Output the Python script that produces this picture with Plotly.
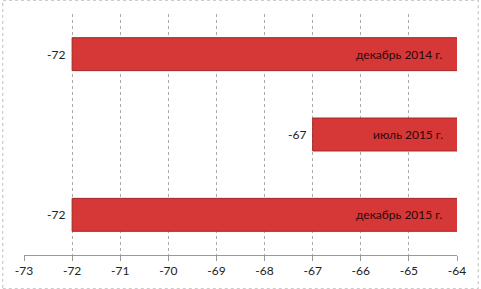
import plotly.graph_objects as go

categories = ["декабрь 2014 г.", "июль 2015 г.", "декабрь 2015 г."]
values = [-72, -67, -72]
tick_vals = [-73, -72, -71, -70, -69, -68, -67, -66, -65, -64]

FONT = "Lato"

fig = go.Figure()
fig.add_trace(go.Bar(
    y=categories, x=values, orientation="h",
    width=0.41,
    marker=dict(color="#D63838", line=dict(color="#A02828", width=1)),
    hoverinfo="skip", showlegend=False,
))

annotations = []
for c, v in zip(categories, values):
    annotations.append(dict(x=v, y=c, xref="x", yref="y", text=str(v),
                            showarrow=False, xanchor="right", xshift=-5,
                            font=dict(family=FONT, size=12, color="#222")))
    annotations.append(dict(x=-64, y=c, xref="x", yref="y", text=c,
                            showarrow=False, xanchor="right", xshift=-12,
                            font=dict(family=FONT, size=12, color="#2a0808")))

fig.update_layout(
    width=481, height=289,
    margin=dict(l=24, r=24, t=14, b=34),
    paper_bgcolor="white", plot_bgcolor="white",
    annotations=annotations,
    shapes=[dict(type="rect", xref="paper", yref="paper", x0=-0.049, x1=1.049,
                 y0=-0.14, y1=1.057, line=dict(color="#BBBBBB", width=1, dash="dot"))],
    xaxis=dict(range=[-73, -64], tickvals=tick_vals, ticktext=[str(t) for t in tick_vals],
               showgrid=True, gridcolor="#AAAAAA", griddash="dot", gridwidth=1,
               showline=True, linecolor="#999999", linewidth=1,
               ticks="outside", ticklen=5, tickcolor="#999999",
               tickfont=dict(family=FONT, size=12, color="#222"),
               zeroline=False, fixedrange=True),
    yaxis=dict(autorange="reversed", showticklabels=False, showgrid=False,
               zeroline=False, showline=False, ticks=""),
    bargap=0.59,
)

fig.write_html("out.html")
